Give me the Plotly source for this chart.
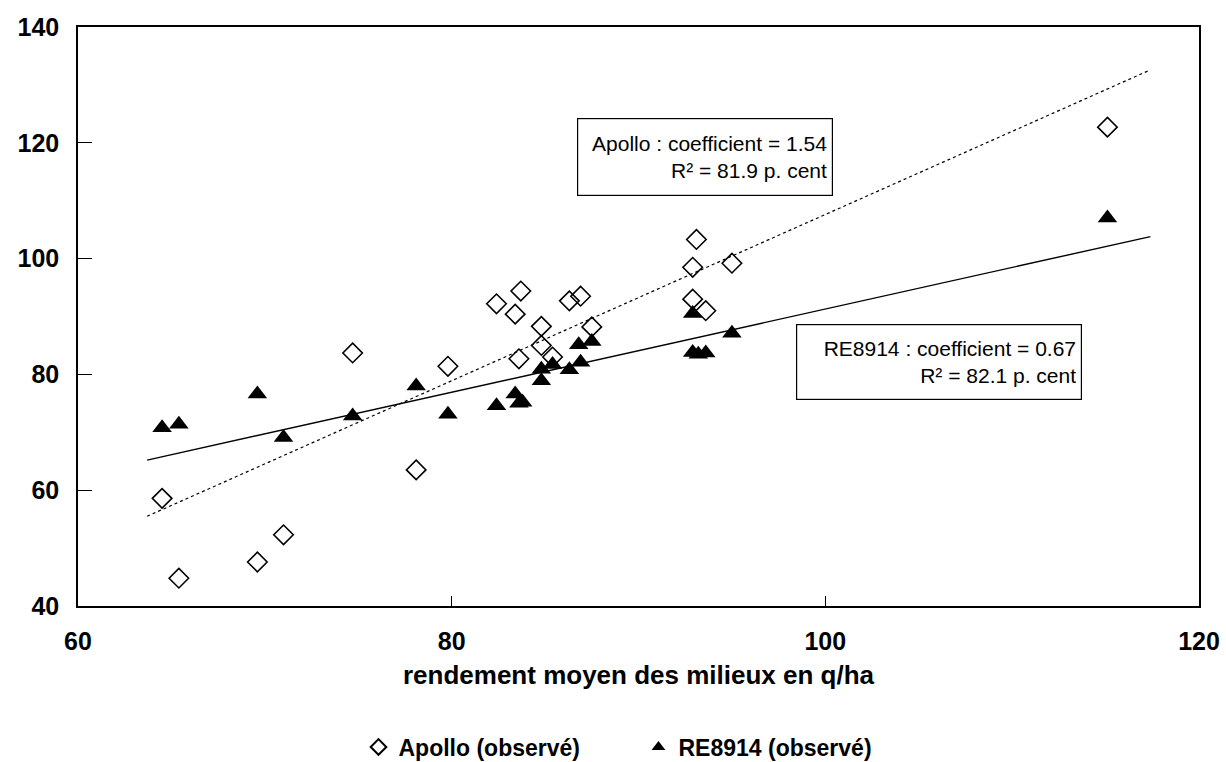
import plotly.graph_objects as go

# Observed data
apollo_x = [64.5, 65.4, 69.6, 71.0, 74.7, 78.1, 79.8, 82.4, 83.4, 83.6, 83.7, 84.8,
            84.8, 85.4, 86.3, 86.9, 87.5, 92.9, 92.9, 93.1, 93.6, 95.0, 115.1]
apollo_y = [58.6, 44.8, 47.6, 52.3, 83.7, 63.5, 81.4, 92.2, 90.4, 82.7, 94.4, 88.3,
            85.0, 83.0, 92.7, 93.5, 88.2, 98.5, 93.0, 103.3, 91.0, 99.2, 122.7]

re_x = [64.5, 65.4, 69.6, 71.0, 74.7, 78.1, 79.8, 82.4, 83.4, 83.6, 83.8, 84.8,
        84.8, 85.4, 86.3, 86.9, 86.8, 87.5, 92.9, 92.9, 93.2, 93.6, 95.0, 115.1]
re_y = [70.8, 71.4, 76.6, 69.1, 72.8, 78.0, 73.1, 74.6, 76.6, 75.0, 75.2, 80.9,
        78.9, 81.7, 80.8, 82.1, 85.1, 85.7, 90.5, 83.8, 83.5, 83.7, 87.1, 107.0]

# Fitted regression lines (end points)
fit_x = [63.7, 117.4]
apollo_fit = [55.5, 132.6]
re_fit = [65.2, 103.8]

x_ticks = [60, 80, 100, 120]
y_ticks = [40, 60, 80, 100, 120, 140]

FONT = "Liberation Sans, Arial, sans-serif"

fig = go.Figure()
fig.add_trace(go.Scatter(x=fit_x, y=apollo_fit, mode="lines",
                         line=dict(color="black", width=1.2, dash="dot"),
                         showlegend=False, hoverinfo="skip"))
fig.add_trace(go.Scatter(x=fit_x, y=re_fit, mode="lines",
                         line=dict(color="black", width=1.4),
                         showlegend=False, hoverinfo="skip"))
fig.add_trace(go.Scatter(x=apollo_x, y=apollo_y, mode="markers", name="Apollo (observé)",
                         marker=dict(symbol="diamond-open", size=15, color="black",
                                     line=dict(width=1.6, color="black"))))
fig.add_trace(go.Scatter(x=re_x, y=re_y, mode="markers", name="RE8914 (observé)",
                         marker=dict(symbol="triangle-up", size=17, color="black",
                                     line=dict(width=0))))

fig.add_annotation(x=93.56, y=117.5, xref="x", yref="y",
                   text="Apollo : coefficient = 1.54<br>R² = 81.9 p. cent",
                   showarrow=False, align="right", xanchor="center", yanchor="middle",
                   font=dict(family=FONT, size=21, color="black"),
                   bordercolor="black", borderwidth=1.2, borderpad=5,
                   bgcolor="white", width=244, height=66)
fig.add_annotation(x=106.07, y=82.2, xref="x", yref="y",
                   text="RE8914 : coefficient = 0.67<br>R² = 82.1 p. cent",
                   showarrow=False, align="right", xanchor="center", yanchor="middle",
                   font=dict(family=FONT, size=21, color="black"),
                   bordercolor="black", borderwidth=1.2, borderpad=5,
                   bgcolor="white", width=274, height=64)

axis_common = dict(showgrid=False, zeroline=False, showline=True, linecolor="black",
                   linewidth=1.5, mirror=True, ticks="inside", automargin=False,
                   ticklabeloverflow="allow",
                   tickcolor="black", tickwidth=1.2,
                   tickfont=dict(family=FONT, size=25, color="black", weight="bold"))

fig.update_xaxes(range=[60, 120], tickvals=x_ticks, ticktext=[str(v) for v in x_ticks],
                 ticklen=10, ticklabelstandoff=12,
                 title=dict(text="rendement moyen des milieux en q/ha",
                            font=dict(family=FONT, size=26, color="black", weight="bold"),
                            standoff=12),
                 **axis_common)
fig.update_yaxes(range=[40, 140], tickvals=y_ticks, ticktext=[str(v) for v in y_ticks],
                 ticklen=14, ticklabelstandoff=12, **axis_common)

fig.update_layout(
    width=1226, height=762,
    margin=dict(l=78, r=27, t=27, b=156, autoexpand=False),
    plot_bgcolor="white", paper_bgcolor="white",
    font=dict(family=FONT, color="black"),
    hovermode=False,
    legend=dict(orientation="h", x=0.5, xanchor="center",
                yref="container", y=0.0197, yanchor="middle",
                font=dict(family=FONT, size=23, color="black", weight="bold"),
                itemsizing="constant", itemwidth=30, entrywidth=235),
)

fig.write_html("out.html",
               config={"displayModeBar": False},
               post_script="document.body.style.margin='0px';"
                           "document.body.style.overflow='hidden';")
